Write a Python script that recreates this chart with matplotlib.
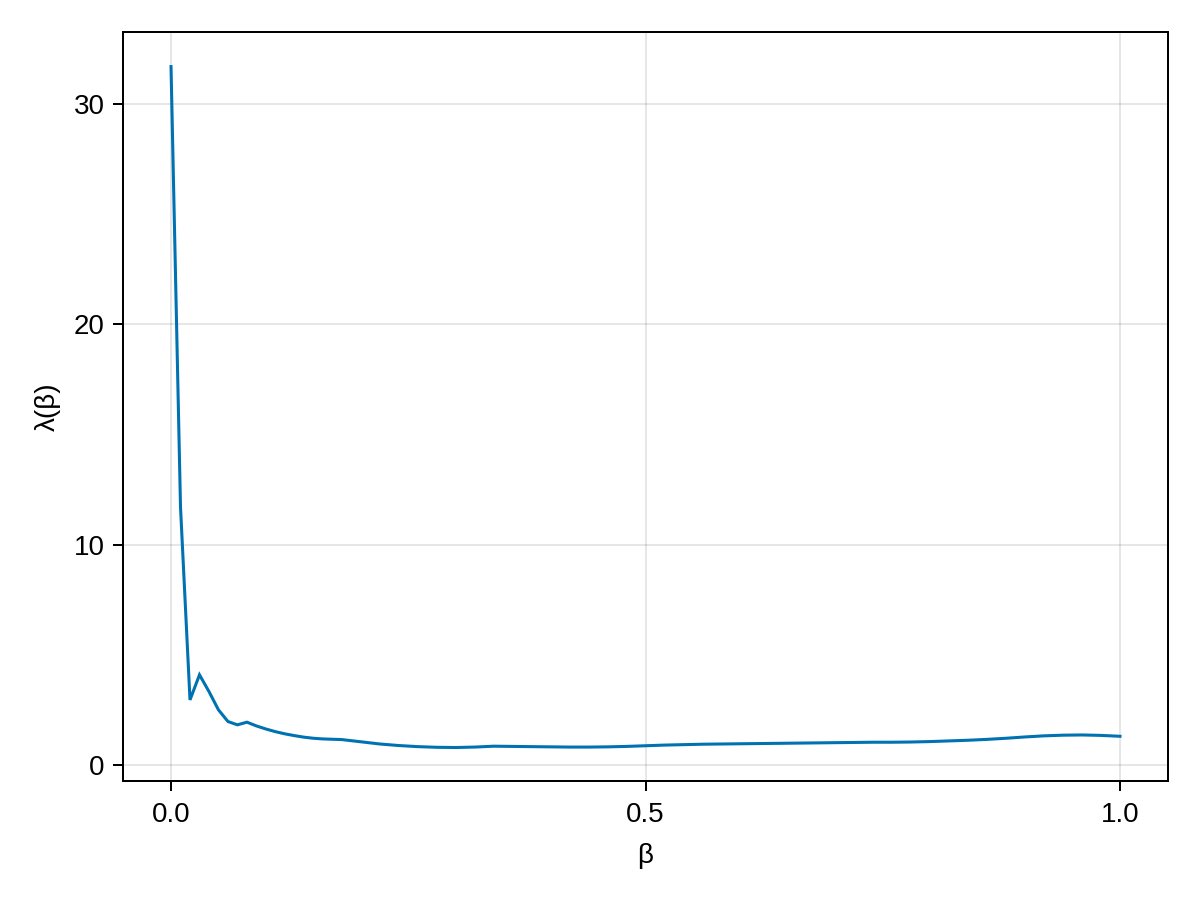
import matplotlib
matplotlib.use("Agg")
import matplotlib.pyplot as plt

beta = [0.00, 0.01, 0.02, 0.03, 0.04, 0.05, 0.06, 0.07, 0.08, 0.09,
        0.10, 0.11, 0.12, 0.13, 0.14, 0.15, 0.16, 0.18, 0.20, 0.22,
        0.24, 0.26, 0.28, 0.30, 0.32, 0.34, 0.36, 0.38, 0.40, 0.42,
        0.44, 0.46, 0.48, 0.50, 0.52, 0.54, 0.56, 0.58, 0.60, 0.62,
        0.64, 0.66, 0.68, 0.70, 0.72, 0.74, 0.76, 0.78, 0.80, 0.82,
        0.84, 0.86, 0.88, 0.90, 0.92, 0.94, 0.96, 0.98, 1.00]
lam = [31.7, 11.7, 2.95, 4.09, 3.33, 2.50, 1.97, 1.82, 1.94, 1.77,
       1.63, 1.51, 1.41, 1.33, 1.26, 1.21, 1.18, 1.15, 1.05, 0.95,
       0.88, 0.83, 0.80, 0.79, 0.81, 0.85, 0.84, 0.83, 0.82, 0.81,
       0.81, 0.82, 0.84, 0.87, 0.90, 0.92, 0.94, 0.95, 0.96, 0.97,
       0.98, 0.99, 1.00, 1.01, 1.02, 1.03, 1.03, 1.04, 1.06, 1.09,
       1.12, 1.16, 1.21, 1.27, 1.32, 1.35, 1.36, 1.34, 1.30]
xticks = [0.0, 0.5, 1.0]
xticklabels = ["0.0", "0.5", "1.0"]
yticks = [0, 10, 20, 30]
yticklabels = ["0", "10", "20", "30"]

plt.rcParams['font.family'] = ['Liberation Sans', 'DejaVu Sans']

fig = plt.figure(figsize=(12, 9), dpi=100)
ax = fig.add_axes([123/1200, 1 - 781/900, (1168-123)/1200, (781-32)/900])

ax.plot(beta, lam, color='#0072B2', lw=2.2, solid_joinstyle='miter', zorder=3)

ax.set_xlim(-0.0506, 1.0506)
ax.set_ylim(-0.73, 33.27)
ax.set_xticks(xticks)
ax.set_xticklabels(xticklabels)
ax.set_yticks(yticks)
ax.set_yticklabels(yticklabels)
ax.grid(True, color='black', alpha=0.13, lw=1.1)
ax.set_axisbelow(True)
for s in ax.spines.values():
    s.set_linewidth(1.44)
    s.set_color('black')
ax.tick_params(axis='x', direction='out', length=7.2, width=1.44, labelsize=20, pad=8)
ax.tick_params(axis='y', direction='out', length=7.2, width=1.44, labelsize=20, pad=6)
ax.set_xlabel('β', fontsize=20, labelpad=11)
ax.set_ylabel('λ(β)', fontsize=20, labelpad=9)

fig.savefig('out.png', dpi=100)
